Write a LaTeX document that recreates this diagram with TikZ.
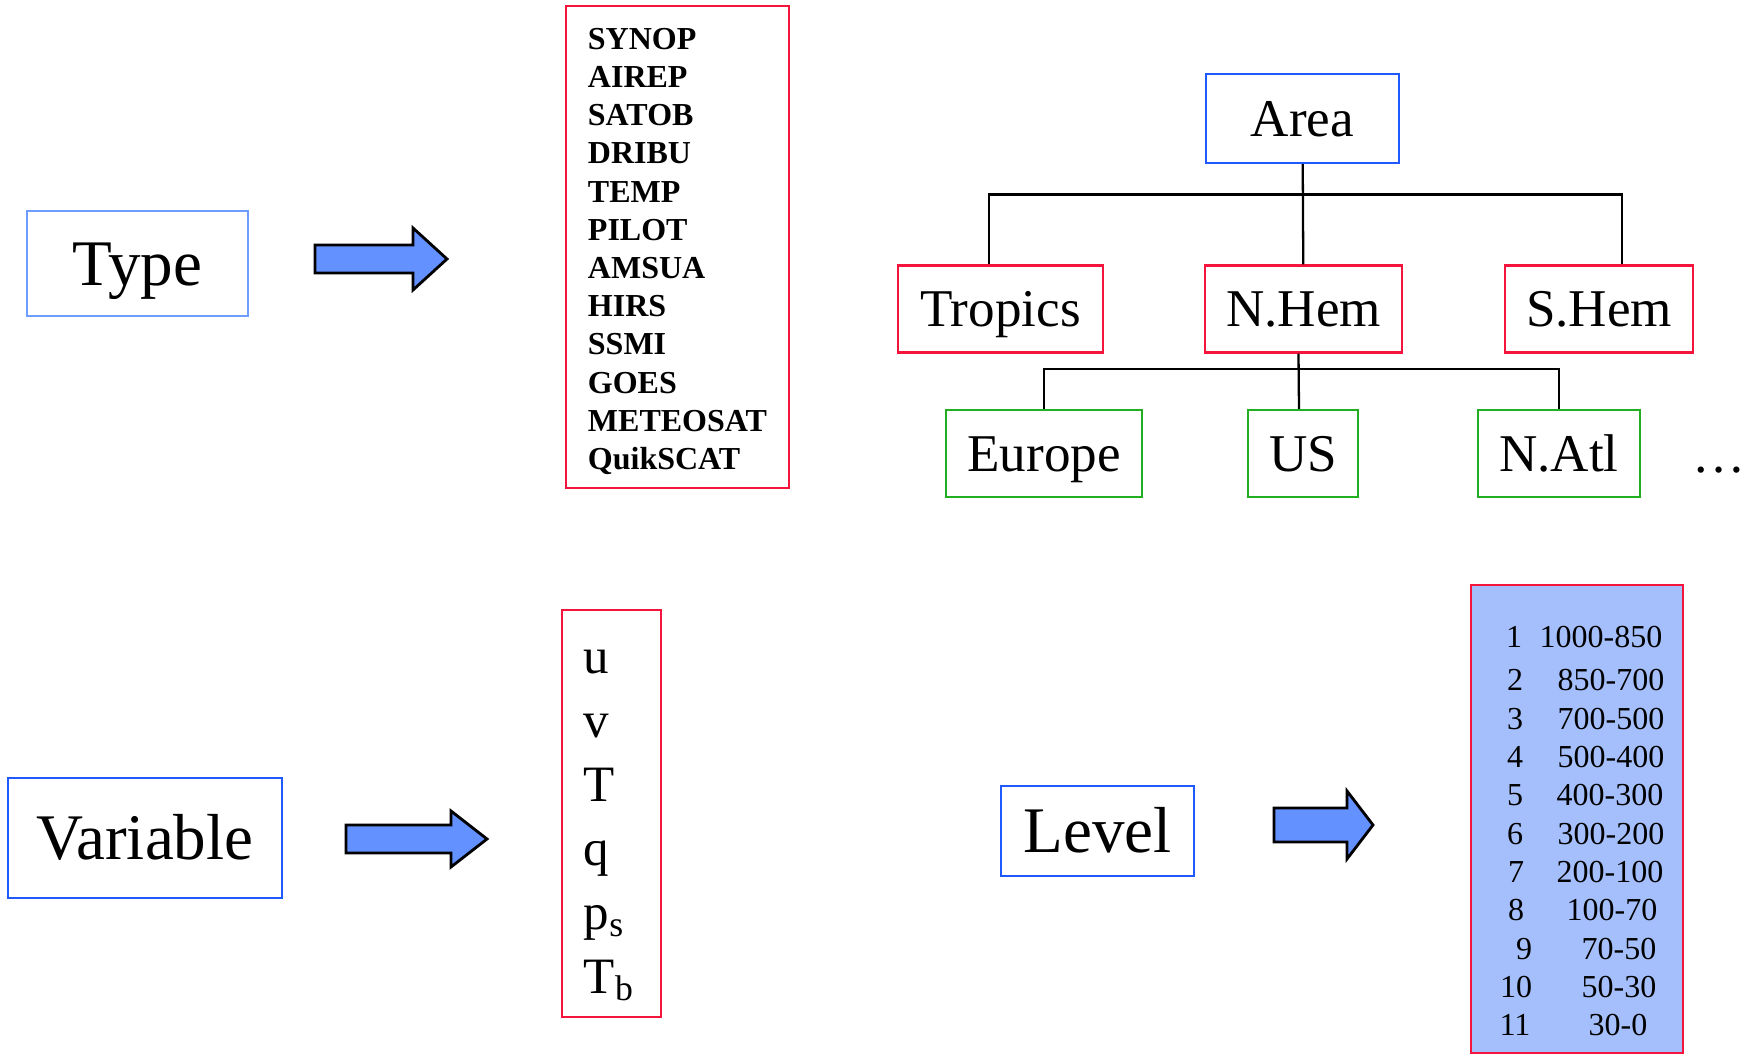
\documentclass[tikz,border=0pt]{standalone}
\usepackage{fontspec}
\setmainfont{Liberation Serif}
\usepackage{tikz}
\usetikzlibrary{positioning}
\definecolor{boxblue}{RGB}{30,90,255}
\definecolor{paleblue}{RGB}{110,156,255}
\definecolor{boxred}{RGB}{245,20,60}
\definecolor{boxgreen}{RGB}{34,176,34}
\definecolor{arrowblue}{RGB}{99,145,255}
\definecolor{levelfill}{RGB}{164,191,251}

\begin{document}
\begin{tikzpicture}[x=0.01cm, y=-0.01cm,
	box/.style={draw, line width=0.6pt, inner sep=0pt},
	bigbox/.style={box, font=\fontsize{18.5}{22}\selectfont,
		text height=0.43cm, text depth=0pt},
	treebox/.style={box, font=\fontsize{15.1}{18}\selectfont,
		text height=0.35cm, text depth=0pt, minimum height=0.87cm},
	fatarrow/.style={draw, line width=0.8pt, fill=arrowblue},
	branch/.style={line width=0.65pt},
	levelrow/.style={font=\fontsize{9.1}{11}\selectfont}]
	\useasboundingbox (0,0) rectangle (1757,1055);

	% left column
	\node [bigbox, draw=paleblue, minimum width=2.21cm, minimum height=1.05cm]
		(type) at (137.5,263.5) {Type};
	\node [bigbox, draw=boxblue, minimum width=2.74cm, minimum height=1.2cm]
		(variable) at (145,838) {Variable};
	\node [bigbox, draw=boxblue, minimum width=1.93cm, minimum height=0.9cm]
		(level) at (1097.5,831) {Level};

	\draw [fatarrow] (315,245) -- ++(98,0) -- ++(0,-17) -- ++(34,31)
		-- ++(-34,31) -- ++(0,-17) -- ++(-98,0) -- cycle;
	\draw [fatarrow] (346,825) -- ++(105,0) -- ++(0,-14) -- ++(36,28)
		-- ++(-36,28) -- ++(0,-14) -- ++(-105,0) -- cycle;
	\draw [fatarrow] (1274,808) -- ++(73,0) -- ++(0,-17) -- ++(26,34)
		-- ++(-26,34) -- ++(0,-17) -- ++(-73,0) -- cycle;

	% lists
	\node [box, draw=boxred, align=left, text width=1.79cm, inner xsep=0.22cm,
		minimum height=4.82cm, font=\fontsize{9.1}{10.87}\selectfont\bfseries]
		(obslist) at (677.5,247)
		{\rule{0pt}{0.3cm}SYNOP\\AIREP\\SATOB\\DRIBU\\TEMP\\PILOT\\AMSUA\\HIRS\\SSMI\\GOES\\METEOSAT\\QuikSCAT};
	\node [box, draw=boxred, align=left, text width=0.55cm, inner xsep=0.22cm,
		minimum height=4.07cm, font=\fontsize{14.5}{18.2}\selectfont]
		(varlist) at (611.5,813.5)
		{\rule{0pt}{0.47cm}u\\v\\T\\q\\p\textsubscript{s}\\T\textsubscript{b}};
	\node [box, draw=boxred, fill=levelfill, minimum width=2.12cm, minimum height=4.68cm]
		(levellist) at (1577,819) {};
	\foreach \n/\nx/\rng/\rx/\y in {1/1514/1000-850/1539/648, 2/1515/850-700/1557/690,
		3/1515/700-500/1557/729, 4/1515/500-400/1557/767, 5/1515/400-300/1556/805,
		6/1515/300-200/1557/844, 7/1516/200-100/1556/882, 8/1516/100-70/1566/920,
		9/1524/70-50/1581/959, 10/1516/50-30/1581/997, 11/1515/30-0/1588/1035}
	{
		\node [levelrow, anchor=base] (num\n) at (\nx,\y) {\n};
		\node [levelrow, anchor=base west, inner sep=0pt] (rng\n) at (\rx,\y) {\rng};
	}

	% area tree
	\node [treebox, draw=boxblue, minimum width=1.93cm, minimum height=0.89cm]
		(area) at (1302.5,118.5) {Area};
	\node [treebox, draw=boxred, minimum width=2.05cm] (tropics) at (1000.5,309) {Tropics};
	\node [treebox, draw=boxred, minimum width=1.97cm] (nhem) at (1303.5,309) {N.Hem};
	\node [treebox, draw=boxred, minimum width=1.88cm] (shem) at (1599,309) {S.Hem};
	\node [treebox, draw=boxgreen, minimum width=1.96cm] (europe) at (1044,453.5) {Europe};
	\node [treebox, draw=boxgreen, minimum width=1.10cm] (us) at (1303,453.5) {US};
	\node [treebox, draw=boxgreen, minimum width=1.62cm] (natl) at (1559,453.5) {N.Atl};
	\node [font=\fontsize{15.1}{18}\selectfont, anchor=base] (more) at (1719,473) {…};

	\draw [branch] (area) -- (nhem);
	\draw [branch] ([xshift=-0.115cm]tropics.north) -- ++(0,-70)
		-| ([xshift=0.23cm]shem.north);
	\draw [branch] ([xshift=-0.05cm]nhem.south) -- ([xshift=-0.04cm]us.north);
	\draw [branch] (europe.north) -- ++(0,-40) -| (natl.north);
\end{tikzpicture}
\end{document}
